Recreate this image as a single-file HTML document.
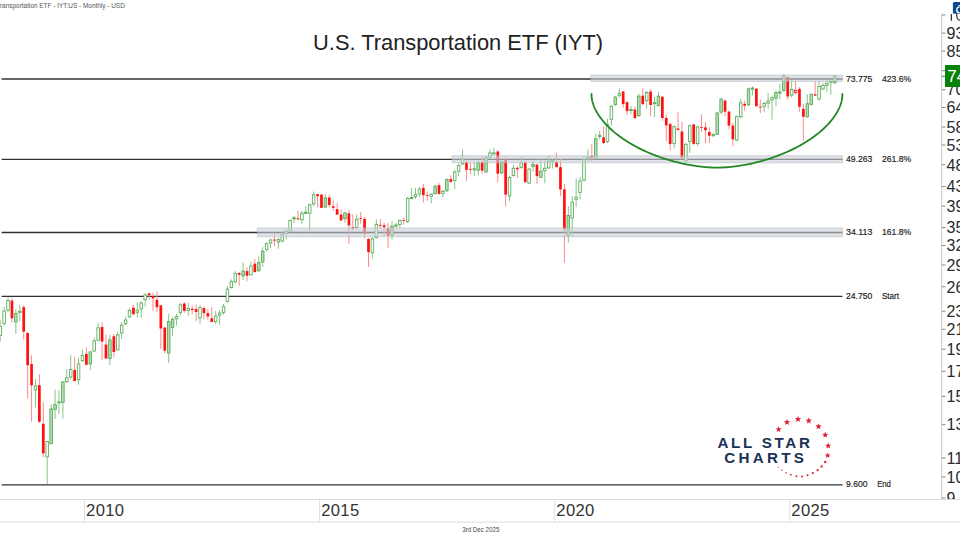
<!DOCTYPE html>
<html><head><meta charset="utf-8"><title>IYT</title>
<style>html,body{margin:0;padding:0;background:#fff;width:960px;height:540px;overflow:hidden}svg{display:block}</style>
</head><body>
<svg width="960" height="540" viewBox="0 0 960 540" font-family="'Liberation Sans', sans-serif">
<defs><clipPath id="axclip"><rect x="930" y="14" width="40" height="485.5"/></clipPath></defs>
<rect width="960" height="540" fill="#fff"/>
<text x="124.8" y="7.7" font-size="6.45" fill="#555" text-anchor="end">U.S. Transportation ETF - IYT:US - Monthly - USD</text>
<text x="458.1" y="50" font-size="22.4" fill="#222" text-anchor="middle" textLength="290" lengthAdjust="spacingAndGlyphs">U.S. Transportation ETF (IYT)</text>
<line x1="1.6" y1="79.00" x2="842.5" y2="79.00" stroke="#303030" stroke-width="1.35"/>
<line x1="1.6" y1="159.38" x2="842.5" y2="159.38" stroke="#303030" stroke-width="1.35"/>
<line x1="1.6" y1="232.53" x2="842.5" y2="232.53" stroke="#303030" stroke-width="1.35"/>
<line x1="1.6" y1="296.39" x2="842.5" y2="296.39" stroke="#303030" stroke-width="1.35"/>
<line x1="1.6" y1="484.89" x2="842.5" y2="484.89" stroke="#303030" stroke-width="1.35"/>
<line x1="0.20" y1="319.4" x2="0.20" y2="341.7" stroke="#86c686" stroke-width="1"/>
<rect x="-1.07" y="326.4" width="2.55" height="9.2" fill="#fff" stroke="#56a856" stroke-width="0.85"/>
<line x1="4.12" y1="306.7" x2="4.12" y2="325.6" stroke="#86c686" stroke-width="1"/>
<rect x="2.85" y="311.0" width="2.55" height="12.4" fill="#fff" stroke="#56a856" stroke-width="0.85"/>
<line x1="8.04" y1="297.2" x2="8.04" y2="312.2" stroke="#86c686" stroke-width="1"/>
<rect x="6.77" y="300.4" width="2.55" height="9.8" fill="#fff" stroke="#56a856" stroke-width="0.85"/>
<line x1="11.96" y1="297.8" x2="11.96" y2="322.8" stroke="#ff8a8a" stroke-width="1"/>
<rect x="10.61" y="300.6" width="2.7" height="17.7" fill="#ff1010"/>
<line x1="15.88" y1="308.9" x2="15.88" y2="333.9" stroke="#86c686" stroke-width="1"/>
<rect x="14.60" y="313.4" width="2.55" height="8.5" fill="#b3dcb3" stroke="#56a856" stroke-width="0.85"/>
<line x1="19.79" y1="304.7" x2="19.79" y2="321.4" stroke="#86c686" stroke-width="1"/>
<rect x="18.52" y="311.3" width="2.55" height="1.1" fill="#b3dcb3" stroke="#56a856" stroke-width="0.85"/>
<line x1="23.71" y1="305.0" x2="23.71" y2="339.4" stroke="#ff8a8a" stroke-width="1"/>
<rect x="22.36" y="307.2" width="2.7" height="24.5" fill="#ff1010"/>
<line x1="27.63" y1="332.0" x2="27.63" y2="398.5" stroke="#ff8a8a" stroke-width="1"/>
<rect x="26.28" y="333.0" width="2.7" height="32.2" fill="#ff1010"/>
<line x1="31.55" y1="355.3" x2="31.55" y2="421.7" stroke="#ff8a8a" stroke-width="1"/>
<rect x="30.20" y="364.1" width="2.7" height="21.1" fill="#ff1010"/>
<line x1="35.47" y1="379.0" x2="35.47" y2="407.5" stroke="#86c686" stroke-width="1"/>
<rect x="34.19" y="385.9" width="2.55" height="4.0" fill="#fff" stroke="#56a856" stroke-width="0.85"/>
<line x1="39.38" y1="374.1" x2="39.38" y2="422.8" stroke="#ff8a8a" stroke-width="1"/>
<rect x="38.03" y="385.2" width="2.7" height="36.5" fill="#ff1010"/>
<line x1="43.30" y1="402.4" x2="43.30" y2="457.0" stroke="#ff8a8a" stroke-width="1"/>
<rect x="41.95" y="423.8" width="2.7" height="29.5" fill="#ff1010"/>
<line x1="47.22" y1="441.0" x2="47.22" y2="483.9" stroke="#86c686" stroke-width="1"/>
<rect x="45.95" y="441.4" width="2.55" height="15.5" fill="#fff" stroke="#56a856" stroke-width="0.85"/>
<line x1="51.14" y1="404.3" x2="51.14" y2="444.2" stroke="#86c686" stroke-width="1"/>
<rect x="49.86" y="408.9" width="2.55" height="34.8" fill="#b3dcb3" stroke="#56a856" stroke-width="0.85"/>
<line x1="55.06" y1="389.8" x2="55.06" y2="419.0" stroke="#86c686" stroke-width="1"/>
<rect x="53.78" y="404.6" width="2.55" height="4.7" fill="#b3dcb3" stroke="#56a856" stroke-width="0.85"/>
<line x1="58.97" y1="390.3" x2="58.97" y2="413.9" stroke="#86c686" stroke-width="1"/>
<rect x="57.70" y="401.8" width="2.55" height="1.1" fill="#b3dcb3" stroke="#56a856" stroke-width="0.85"/>
<line x1="62.89" y1="381.5" x2="62.89" y2="418.5" stroke="#86c686" stroke-width="1"/>
<rect x="61.62" y="381.9" width="2.55" height="20.5" fill="#b3dcb3" stroke="#56a856" stroke-width="0.85"/>
<line x1="66.81" y1="369.0" x2="66.81" y2="383.0" stroke="#86c686" stroke-width="1"/>
<rect x="65.53" y="377.8" width="2.55" height="3.8" fill="#fff" stroke="#56a856" stroke-width="0.85"/>
<line x1="70.73" y1="355.2" x2="70.73" y2="379.3" stroke="#86c686" stroke-width="1"/>
<rect x="69.45" y="369.4" width="2.55" height="7.5" fill="#fff" stroke="#56a856" stroke-width="0.85"/>
<line x1="74.65" y1="356.7" x2="74.65" y2="381.1" stroke="#ff8a8a" stroke-width="1"/>
<rect x="73.30" y="370.0" width="2.7" height="11.1" fill="#ff1010"/>
<line x1="78.56" y1="358.0" x2="78.56" y2="384.8" stroke="#86c686" stroke-width="1"/>
<rect x="77.29" y="363.9" width="2.55" height="15.8" fill="#fff" stroke="#56a856" stroke-width="0.85"/>
<line x1="82.48" y1="349.6" x2="82.48" y2="361.7" stroke="#86c686" stroke-width="1"/>
<rect x="81.21" y="355.6" width="2.55" height="5.1" fill="#fff" stroke="#56a856" stroke-width="0.85"/>
<line x1="86.40" y1="347.4" x2="86.40" y2="364.8" stroke="#ff8a8a" stroke-width="1"/>
<rect x="85.05" y="353.9" width="2.7" height="10.9" fill="#ff1010"/>
<line x1="90.32" y1="351.5" x2="90.32" y2="370.0" stroke="#86c686" stroke-width="1"/>
<rect x="89.04" y="351.9" width="2.55" height="12.0" fill="#b3dcb3" stroke="#56a856" stroke-width="0.85"/>
<line x1="94.24" y1="337.6" x2="94.24" y2="351.5" stroke="#86c686" stroke-width="1"/>
<rect x="92.96" y="340.8" width="2.55" height="10.3" fill="#fff" stroke="#56a856" stroke-width="0.85"/>
<line x1="98.15" y1="322.6" x2="98.15" y2="341.0" stroke="#86c686" stroke-width="1"/>
<rect x="96.88" y="327.8" width="2.55" height="12.5" fill="#fff" stroke="#56a856" stroke-width="0.85"/>
<line x1="102.07" y1="322.4" x2="102.07" y2="360.4" stroke="#ff8a8a" stroke-width="1"/>
<rect x="100.72" y="327.0" width="2.7" height="14.5" fill="#ff1010"/>
<line x1="105.99" y1="334.4" x2="105.99" y2="358.5" stroke="#ff8a8a" stroke-width="1"/>
<rect x="104.64" y="344.6" width="2.7" height="13.9" fill="#ff1010"/>
<line x1="109.91" y1="334.9" x2="109.91" y2="365.0" stroke="#86c686" stroke-width="1"/>
<rect x="108.63" y="339.9" width="2.55" height="18.6" fill="#b3dcb3" stroke="#56a856" stroke-width="0.85"/>
<line x1="113.83" y1="334.4" x2="113.83" y2="357.6" stroke="#ff8a8a" stroke-width="1"/>
<rect x="112.48" y="336.3" width="2.7" height="15.7" fill="#ff1010"/>
<line x1="117.74" y1="331.7" x2="117.74" y2="350.2" stroke="#86c686" stroke-width="1"/>
<rect x="116.47" y="334.8" width="2.55" height="15.0" fill="#fff" stroke="#56a856" stroke-width="0.85"/>
<line x1="121.66" y1="322.4" x2="121.66" y2="339.0" stroke="#86c686" stroke-width="1"/>
<rect x="120.39" y="325.2" width="2.55" height="7.8" fill="#fff" stroke="#56a856" stroke-width="0.85"/>
<line x1="125.58" y1="316.9" x2="125.58" y2="325.2" stroke="#86c686" stroke-width="1"/>
<rect x="124.31" y="320.0" width="2.55" height="3.8" fill="#fff" stroke="#56a856" stroke-width="0.85"/>
<line x1="129.50" y1="308.5" x2="129.50" y2="317.8" stroke="#86c686" stroke-width="1"/>
<rect x="128.22" y="310.4" width="2.55" height="6.5" fill="#fff" stroke="#56a856" stroke-width="0.85"/>
<line x1="133.42" y1="304.9" x2="133.42" y2="315.1" stroke="#ff8a8a" stroke-width="1"/>
<rect x="132.07" y="307.7" width="2.7" height="6.5" fill="#ff1010"/>
<line x1="137.33" y1="302.0" x2="137.33" y2="317.8" stroke="#86c686" stroke-width="1"/>
<rect x="136.06" y="310.2" width="2.55" height="2.1" fill="#fff" stroke="#56a856" stroke-width="0.85"/>
<line x1="141.25" y1="301.1" x2="141.25" y2="317.8" stroke="#86c686" stroke-width="1"/>
<rect x="139.98" y="303.0" width="2.55" height="5.9" fill="#fff" stroke="#56a856" stroke-width="0.85"/>
<line x1="145.17" y1="293.3" x2="145.17" y2="306.7" stroke="#86c686" stroke-width="1"/>
<rect x="143.90" y="295.0" width="2.55" height="4.7" fill="#fff" stroke="#56a856" stroke-width="0.85"/>
<line x1="149.09" y1="292.8" x2="149.09" y2="300.2" stroke="#ff8a8a" stroke-width="1"/>
<rect x="147.74" y="293.3" width="2.7" height="1.9" fill="#ff1010"/>
<line x1="153.01" y1="293.3" x2="153.01" y2="311.0" stroke="#ff8a8a" stroke-width="1"/>
<rect x="151.66" y="296.3" width="2.7" height="2.0" fill="#ff1010"/>
<line x1="156.92" y1="291.5" x2="156.92" y2="311.9" stroke="#ff8a8a" stroke-width="1"/>
<rect x="155.57" y="299.8" width="2.7" height="7.4" fill="#ff1010"/>
<line x1="160.84" y1="305.4" x2="160.84" y2="348.9" stroke="#ff8a8a" stroke-width="1"/>
<rect x="159.49" y="305.4" width="2.7" height="23.1" fill="#ff1010"/>
<line x1="164.76" y1="326.7" x2="164.76" y2="353.5" stroke="#ff8a8a" stroke-width="1"/>
<rect x="163.41" y="327.6" width="2.7" height="23.1" fill="#ff1010"/>
<line x1="168.68" y1="313.7" x2="168.68" y2="362.8" stroke="#86c686" stroke-width="1"/>
<rect x="167.40" y="321.5" width="2.55" height="31.5" fill="#b3dcb3" stroke="#56a856" stroke-width="0.85"/>
<line x1="172.60" y1="316.8" x2="172.60" y2="335.7" stroke="#86c686" stroke-width="1"/>
<rect x="171.32" y="319.4" width="2.55" height="8.0" fill="#b3dcb3" stroke="#56a856" stroke-width="0.85"/>
<line x1="176.51" y1="313.7" x2="176.51" y2="325.7" stroke="#86c686" stroke-width="1"/>
<rect x="175.24" y="316.5" width="2.55" height="2.3" fill="#fff" stroke="#56a856" stroke-width="0.85"/>
<line x1="180.43" y1="303.1" x2="180.43" y2="315.6" stroke="#86c686" stroke-width="1"/>
<rect x="179.16" y="304.8" width="2.55" height="7.6" fill="#fff" stroke="#56a856" stroke-width="0.85"/>
<line x1="184.35" y1="302.6" x2="184.35" y2="312.8" stroke="#ff8a8a" stroke-width="1"/>
<rect x="183.00" y="303.5" width="2.7" height="7.4" fill="#ff1010"/>
<line x1="188.27" y1="302.6" x2="188.27" y2="315.6" stroke="#86c686" stroke-width="1"/>
<rect x="186.99" y="308.3" width="2.55" height="2.1" fill="#fff" stroke="#56a856" stroke-width="0.85"/>
<line x1="192.19" y1="305.4" x2="192.19" y2="314.6" stroke="#ff8a8a" stroke-width="1"/>
<rect x="190.84" y="308.7" width="2.7" height="1.3" fill="#ff1010"/>
<line x1="196.10" y1="304.4" x2="196.10" y2="321.1" stroke="#ff8a8a" stroke-width="1"/>
<rect x="194.75" y="309.0" width="2.7" height="2.9" fill="#ff1010"/>
<line x1="200.02" y1="305.4" x2="200.02" y2="323.9" stroke="#86c686" stroke-width="1"/>
<rect x="198.75" y="307.6" width="2.55" height="10.3" fill="#fff" stroke="#56a856" stroke-width="0.85"/>
<line x1="203.94" y1="306.3" x2="203.94" y2="319.3" stroke="#ff8a8a" stroke-width="1"/>
<rect x="202.59" y="308.1" width="2.7" height="5.0" fill="#ff1010"/>
<line x1="207.86" y1="309.5" x2="207.86" y2="319.3" stroke="#ff8a8a" stroke-width="1"/>
<rect x="206.51" y="313.2" width="2.7" height="3.3" fill="#ff1010"/>
<line x1="211.78" y1="307.2" x2="211.78" y2="322.0" stroke="#ff8a8a" stroke-width="1"/>
<rect x="210.43" y="318.3" width="2.7" height="3.7" fill="#ff1010"/>
<line x1="215.69" y1="310.9" x2="215.69" y2="323.9" stroke="#86c686" stroke-width="1"/>
<rect x="214.42" y="316.0" width="2.55" height="5.5" fill="#fff" stroke="#56a856" stroke-width="0.85"/>
<line x1="219.61" y1="310.0" x2="219.61" y2="324.8" stroke="#86c686" stroke-width="1"/>
<rect x="218.34" y="313.1" width="2.55" height="2.1" fill="#fff" stroke="#56a856" stroke-width="0.85"/>
<line x1="223.53" y1="303.9" x2="223.53" y2="314.6" stroke="#86c686" stroke-width="1"/>
<rect x="222.26" y="306.7" width="2.55" height="5.7" fill="#fff" stroke="#56a856" stroke-width="0.85"/>
<line x1="227.45" y1="285.9" x2="227.45" y2="302.6" stroke="#86c686" stroke-width="1"/>
<rect x="226.17" y="289.1" width="2.55" height="12.2" fill="#fff" stroke="#56a856" stroke-width="0.85"/>
<line x1="231.37" y1="279.4" x2="231.37" y2="288.7" stroke="#86c686" stroke-width="1"/>
<rect x="230.09" y="281.7" width="2.55" height="5.7" fill="#fff" stroke="#56a856" stroke-width="0.85"/>
<line x1="235.28" y1="271.1" x2="235.28" y2="283.1" stroke="#86c686" stroke-width="1"/>
<rect x="234.01" y="273.4" width="2.55" height="8.3" fill="#fff" stroke="#56a856" stroke-width="0.85"/>
<line x1="239.20" y1="272.0" x2="239.20" y2="285.9" stroke="#ff8a8a" stroke-width="1"/>
<rect x="237.85" y="273.0" width="2.7" height="1.8" fill="#ff1010"/>
<line x1="243.12" y1="262.4" x2="243.12" y2="280.0" stroke="#86c686" stroke-width="1"/>
<rect x="241.85" y="271.1" width="2.55" height="4.8" fill="#b3dcb3" stroke="#56a856" stroke-width="0.85"/>
<line x1="247.04" y1="267.4" x2="247.04" y2="281.3" stroke="#ff8a8a" stroke-width="1"/>
<rect x="245.69" y="271.1" width="2.7" height="4.6" fill="#ff1010"/>
<line x1="250.96" y1="261.5" x2="250.96" y2="275.4" stroke="#86c686" stroke-width="1"/>
<rect x="249.68" y="266.0" width="2.55" height="8.9" fill="#fff" stroke="#56a856" stroke-width="0.85"/>
<line x1="254.87" y1="259.1" x2="254.87" y2="273.0" stroke="#ff8a8a" stroke-width="1"/>
<rect x="253.52" y="263.7" width="2.7" height="8.3" fill="#ff1010"/>
<line x1="258.79" y1="256.4" x2="258.79" y2="272.1" stroke="#86c686" stroke-width="1"/>
<rect x="257.52" y="262.4" width="2.55" height="8.3" fill="#b3dcb3" stroke="#56a856" stroke-width="0.85"/>
<line x1="262.71" y1="247.1" x2="262.71" y2="267.0" stroke="#86c686" stroke-width="1"/>
<rect x="261.44" y="251.2" width="2.55" height="10.7" fill="#b3dcb3" stroke="#56a856" stroke-width="0.85"/>
<line x1="266.63" y1="242.4" x2="266.63" y2="251.7" stroke="#86c686" stroke-width="1"/>
<rect x="265.35" y="243.7" width="2.55" height="5.7" fill="#fff" stroke="#56a856" stroke-width="0.85"/>
<line x1="270.55" y1="238.7" x2="270.55" y2="248.0" stroke="#86c686" stroke-width="1"/>
<rect x="269.27" y="240.0" width="2.55" height="2.9" fill="#fff" stroke="#56a856" stroke-width="0.85"/>
<line x1="274.46" y1="234.1" x2="274.46" y2="246.1" stroke="#ff8a8a" stroke-width="1"/>
<rect x="273.11" y="239.6" width="2.7" height="1.0" fill="#ff1010"/>
<line x1="278.38" y1="237.8" x2="278.38" y2="248.9" stroke="#86c686" stroke-width="1"/>
<rect x="277.11" y="239.7" width="2.55" height="2.2" fill="#fff" stroke="#56a856" stroke-width="0.85"/>
<line x1="282.30" y1="232.2" x2="282.30" y2="242.4" stroke="#86c686" stroke-width="1"/>
<rect x="281.03" y="234.5" width="2.55" height="6.6" fill="#fff" stroke="#56a856" stroke-width="0.85"/>
<line x1="286.22" y1="228.5" x2="286.22" y2="239.6" stroke="#86c686" stroke-width="1"/>
<rect x="284.94" y="231.3" width="2.55" height="2.3" fill="#fff" stroke="#56a856" stroke-width="0.85"/>
<line x1="290.14" y1="219.3" x2="290.14" y2="232.2" stroke="#86c686" stroke-width="1"/>
<rect x="288.86" y="220.6" width="2.55" height="10.3" fill="#fff" stroke="#56a856" stroke-width="0.85"/>
<line x1="294.05" y1="215.6" x2="294.05" y2="223.0" stroke="#86c686" stroke-width="1"/>
<rect x="292.78" y="217.8" width="2.55" height="1.1" fill="#b3dcb3" stroke="#56a856" stroke-width="0.85"/>
<line x1="297.97" y1="210.9" x2="297.97" y2="220.2" stroke="#ff8a8a" stroke-width="1"/>
<rect x="296.62" y="218.3" width="2.7" height="1.0" fill="#ff1010"/>
<line x1="301.89" y1="210.9" x2="301.89" y2="223.9" stroke="#86c686" stroke-width="1"/>
<rect x="300.62" y="213.2" width="2.55" height="6.5" fill="#fff" stroke="#56a856" stroke-width="0.85"/>
<line x1="305.81" y1="206.1" x2="305.81" y2="214.4" stroke="#86c686" stroke-width="1"/>
<rect x="304.53" y="212.2" width="2.55" height="1.1" fill="#b3dcb3" stroke="#56a856" stroke-width="0.85"/>
<line x1="309.73" y1="203.5" x2="309.73" y2="232.2" stroke="#86c686" stroke-width="1"/>
<rect x="308.45" y="204.8" width="2.55" height="8.4" fill="#fff" stroke="#56a856" stroke-width="0.85"/>
<line x1="313.64" y1="191.5" x2="313.64" y2="206.3" stroke="#86c686" stroke-width="1"/>
<rect x="312.37" y="194.7" width="2.55" height="9.2" fill="#fff" stroke="#56a856" stroke-width="0.85"/>
<line x1="317.56" y1="193.8" x2="317.56" y2="207.5" stroke="#ff8a8a" stroke-width="1"/>
<rect x="316.21" y="194.2" width="2.7" height="2.0" fill="#ff1010"/>
<line x1="321.48" y1="194.2" x2="321.48" y2="208.3" stroke="#ff8a8a" stroke-width="1"/>
<rect x="320.13" y="194.6" width="2.7" height="13.3" fill="#ff1010"/>
<line x1="325.40" y1="194.2" x2="325.40" y2="207.9" stroke="#86c686" stroke-width="1"/>
<rect x="324.12" y="197.9" width="2.55" height="9.2" fill="#b3dcb3" stroke="#56a856" stroke-width="0.85"/>
<line x1="329.32" y1="194.6" x2="329.32" y2="207.5" stroke="#ff8a8a" stroke-width="1"/>
<rect x="327.97" y="197.5" width="2.7" height="7.5" fill="#ff1010"/>
<line x1="333.23" y1="200.8" x2="333.23" y2="210.8" stroke="#ff8a8a" stroke-width="1"/>
<rect x="331.88" y="206.3" width="2.7" height="1.6" fill="#ff1010"/>
<line x1="337.15" y1="202.9" x2="337.15" y2="214.6" stroke="#ff8a8a" stroke-width="1"/>
<rect x="335.80" y="209.2" width="2.7" height="5.4" fill="#ff1010"/>
<line x1="341.07" y1="209.2" x2="341.07" y2="220.8" stroke="#ff8a8a" stroke-width="1"/>
<rect x="339.72" y="214.6" width="2.7" height="5.8" fill="#ff1010"/>
<line x1="344.99" y1="212.0" x2="344.99" y2="222.7" stroke="#86c686" stroke-width="1"/>
<rect x="343.71" y="212.9" width="2.55" height="5.7" fill="#b3dcb3" stroke="#56a856" stroke-width="0.85"/>
<line x1="348.91" y1="209.6" x2="348.91" y2="243.9" stroke="#ff8a8a" stroke-width="1"/>
<rect x="347.56" y="213.3" width="2.7" height="12.1" fill="#ff1010"/>
<line x1="352.82" y1="214.3" x2="352.82" y2="230.9" stroke="#ff8a8a" stroke-width="1"/>
<rect x="351.47" y="227.2" width="2.7" height="1.3" fill="#ff1010"/>
<line x1="356.74" y1="214.3" x2="356.74" y2="229.1" stroke="#86c686" stroke-width="1"/>
<rect x="355.47" y="219.3" width="2.55" height="8.1" fill="#fff" stroke="#56a856" stroke-width="0.85"/>
<line x1="360.66" y1="212.0" x2="360.66" y2="223.6" stroke="#ff8a8a" stroke-width="1"/>
<rect x="359.31" y="218.2" width="2.7" height="0.8" fill="#ff1010"/>
<line x1="364.58" y1="217.0" x2="364.58" y2="238.3" stroke="#ff8a8a" stroke-width="1"/>
<rect x="363.23" y="218.9" width="2.7" height="14.8" fill="#ff1010"/>
<line x1="368.50" y1="238.3" x2="368.50" y2="267.0" stroke="#ff8a8a" stroke-width="1"/>
<rect x="367.15" y="238.9" width="2.7" height="13.3" fill="#ff1010"/>
<line x1="372.41" y1="236.7" x2="372.41" y2="258.4" stroke="#86c686" stroke-width="1"/>
<rect x="371.14" y="238.9" width="2.55" height="14.0" fill="#fff" stroke="#56a856" stroke-width="0.85"/>
<line x1="376.33" y1="219.3" x2="376.33" y2="238.7" stroke="#86c686" stroke-width="1"/>
<rect x="375.06" y="224.3" width="2.55" height="13.1" fill="#fff" stroke="#56a856" stroke-width="0.85"/>
<line x1="380.25" y1="219.3" x2="380.25" y2="228.5" stroke="#ff8a8a" stroke-width="1"/>
<rect x="378.90" y="224.9" width="2.7" height="0.8" fill="#ff1010"/>
<line x1="384.17" y1="223.0" x2="384.17" y2="235.9" stroke="#ff8a8a" stroke-width="1"/>
<rect x="382.82" y="225.3" width="2.7" height="1.8" fill="#ff1010"/>
<line x1="388.09" y1="223.0" x2="388.09" y2="248.0" stroke="#ff8a8a" stroke-width="1"/>
<rect x="386.74" y="228.5" width="2.7" height="7.4" fill="#ff1010"/>
<line x1="392.00" y1="221.1" x2="392.00" y2="239.6" stroke="#86c686" stroke-width="1"/>
<rect x="390.73" y="226.1" width="2.55" height="9.4" fill="#b3dcb3" stroke="#56a856" stroke-width="0.85"/>
<line x1="395.92" y1="223.0" x2="395.92" y2="227.6" stroke="#86c686" stroke-width="1"/>
<rect x="394.65" y="225.0" width="2.55" height="1.1" fill="#b3dcb3" stroke="#56a856" stroke-width="0.85"/>
<line x1="399.84" y1="219.3" x2="399.84" y2="227.6" stroke="#86c686" stroke-width="1"/>
<rect x="398.57" y="220.6" width="2.55" height="3.8" fill="#fff" stroke="#56a856" stroke-width="0.85"/>
<line x1="403.76" y1="217.4" x2="403.76" y2="224.8" stroke="#ff8a8a" stroke-width="1"/>
<rect x="402.41" y="220.2" width="2.7" height="0.8" fill="#ff1010"/>
<line x1="407.68" y1="197.0" x2="407.68" y2="223.0" stroke="#86c686" stroke-width="1"/>
<rect x="406.40" y="198.4" width="2.55" height="23.1" fill="#fff" stroke="#56a856" stroke-width="0.85"/>
<line x1="411.59" y1="187.8" x2="411.59" y2="198.9" stroke="#86c686" stroke-width="1"/>
<rect x="410.32" y="197.5" width="2.55" height="1.1" fill="#b3dcb3" stroke="#56a856" stroke-width="0.85"/>
<line x1="415.51" y1="187.8" x2="415.51" y2="198.9" stroke="#86c686" stroke-width="1"/>
<rect x="414.24" y="194.6" width="2.55" height="2.1" fill="#fff" stroke="#56a856" stroke-width="0.85"/>
<line x1="419.43" y1="186.9" x2="419.43" y2="197.0" stroke="#86c686" stroke-width="1"/>
<rect x="418.16" y="189.1" width="2.55" height="4.8" fill="#fff" stroke="#56a856" stroke-width="0.85"/>
<line x1="423.35" y1="184.1" x2="423.35" y2="202.6" stroke="#ff8a8a" stroke-width="1"/>
<rect x="422.00" y="187.8" width="2.7" height="7.4" fill="#ff1010"/>
<line x1="427.27" y1="191.5" x2="427.27" y2="200.7" stroke="#ff8a8a" stroke-width="1"/>
<rect x="425.92" y="195.2" width="2.7" height="0.8" fill="#ff1010"/>
<line x1="431.18" y1="193.0" x2="431.18" y2="203.1" stroke="#86c686" stroke-width="1"/>
<rect x="429.91" y="194.2" width="2.55" height="2.1" fill="#fff" stroke="#56a856" stroke-width="0.85"/>
<line x1="435.10" y1="184.6" x2="435.10" y2="194.8" stroke="#86c686" stroke-width="1"/>
<rect x="433.83" y="186.3" width="2.55" height="7.1" fill="#b3dcb3" stroke="#56a856" stroke-width="0.85"/>
<line x1="439.02" y1="182.8" x2="439.02" y2="194.8" stroke="#ff8a8a" stroke-width="1"/>
<rect x="437.67" y="185.2" width="2.7" height="8.7" fill="#ff1010"/>
<line x1="442.94" y1="189.3" x2="442.94" y2="197.6" stroke="#86c686" stroke-width="1"/>
<rect x="441.66" y="191.4" width="2.55" height="2.1" fill="#fff" stroke="#56a856" stroke-width="0.85"/>
<line x1="446.86" y1="178.5" x2="446.86" y2="192.0" stroke="#86c686" stroke-width="1"/>
<rect x="445.58" y="179.5" width="2.55" height="11.2" fill="#b3dcb3" stroke="#56a856" stroke-width="0.85"/>
<line x1="450.77" y1="175.4" x2="450.77" y2="182.8" stroke="#ff8a8a" stroke-width="1"/>
<rect x="449.42" y="179.1" width="2.7" height="2.8" fill="#ff1010"/>
<line x1="454.69" y1="169.8" x2="454.69" y2="189.3" stroke="#86c686" stroke-width="1"/>
<rect x="453.42" y="172.1" width="2.55" height="8.4" fill="#fff" stroke="#56a856" stroke-width="0.85"/>
<line x1="458.61" y1="163.3" x2="458.61" y2="176.3" stroke="#86c686" stroke-width="1"/>
<rect x="457.34" y="165.6" width="2.55" height="5.7" fill="#fff" stroke="#56a856" stroke-width="0.85"/>
<line x1="462.53" y1="149.4" x2="462.53" y2="165.2" stroke="#86c686" stroke-width="1"/>
<rect x="461.25" y="159.1" width="2.55" height="4.8" fill="#fff" stroke="#56a856" stroke-width="0.85"/>
<line x1="466.45" y1="159.6" x2="466.45" y2="180.9" stroke="#ff8a8a" stroke-width="1"/>
<rect x="465.10" y="162.4" width="2.7" height="7.4" fill="#ff1010"/>
<line x1="470.36" y1="162.4" x2="470.36" y2="174.4" stroke="#ff8a8a" stroke-width="1"/>
<rect x="469.01" y="168.9" width="2.7" height="0.9" fill="#ff1010"/>
<line x1="474.28" y1="162.4" x2="474.28" y2="176.3" stroke="#86c686" stroke-width="1"/>
<rect x="473.01" y="168.8" width="2.55" height="1.1" fill="#b3dcb3" stroke="#56a856" stroke-width="0.85"/>
<line x1="478.20" y1="160.8" x2="478.20" y2="175.6" stroke="#86c686" stroke-width="1"/>
<rect x="476.93" y="162.6" width="2.55" height="7.6" fill="#b3dcb3" stroke="#56a856" stroke-width="0.85"/>
<line x1="482.12" y1="156.2" x2="482.12" y2="173.8" stroke="#ff8a8a" stroke-width="1"/>
<rect x="480.77" y="162.2" width="2.7" height="8.4" fill="#ff1010"/>
<line x1="486.04" y1="156.3" x2="486.04" y2="173.0" stroke="#86c686" stroke-width="1"/>
<rect x="484.76" y="157.5" width="2.55" height="14.5" fill="#b3dcb3" stroke="#56a856" stroke-width="0.85"/>
<line x1="489.95" y1="149.6" x2="489.95" y2="158.5" stroke="#86c686" stroke-width="1"/>
<rect x="488.68" y="153.0" width="2.55" height="4.2" fill="#fff" stroke="#56a856" stroke-width="0.85"/>
<line x1="493.87" y1="147.8" x2="493.87" y2="153.9" stroke="#86c686" stroke-width="1"/>
<rect x="492.60" y="152.9" width="2.55" height="1.1" fill="#b3dcb3" stroke="#56a856" stroke-width="0.85"/>
<line x1="497.79" y1="150.2" x2="497.79" y2="182.2" stroke="#ff8a8a" stroke-width="1"/>
<rect x="496.44" y="151.5" width="2.7" height="22.2" fill="#ff1010"/>
<line x1="501.71" y1="160.7" x2="501.71" y2="174.3" stroke="#86c686" stroke-width="1"/>
<rect x="500.43" y="161.7" width="2.55" height="11.2" fill="#b3dcb3" stroke="#56a856" stroke-width="0.85"/>
<line x1="505.63" y1="157.6" x2="505.63" y2="206.3" stroke="#ff8a8a" stroke-width="1"/>
<rect x="504.28" y="159.4" width="2.7" height="35.2" fill="#ff1010"/>
<line x1="509.54" y1="175.6" x2="509.54" y2="201.1" stroke="#86c686" stroke-width="1"/>
<rect x="508.27" y="177.4" width="2.55" height="18.6" fill="#fff" stroke="#56a856" stroke-width="0.85"/>
<line x1="513.46" y1="165.0" x2="513.46" y2="176.7" stroke="#86c686" stroke-width="1"/>
<rect x="512.19" y="168.2" width="2.55" height="7.4" fill="#fff" stroke="#56a856" stroke-width="0.85"/>
<line x1="517.38" y1="166.3" x2="517.38" y2="178.0" stroke="#ff8a8a" stroke-width="1"/>
<rect x="516.03" y="167.8" width="2.7" height="1.5" fill="#ff1010"/>
<line x1="521.30" y1="156.7" x2="521.30" y2="168.7" stroke="#86c686" stroke-width="1"/>
<rect x="520.02" y="162.6" width="2.55" height="4.8" fill="#fff" stroke="#56a856" stroke-width="0.85"/>
<line x1="525.22" y1="160.4" x2="525.22" y2="182.6" stroke="#ff8a8a" stroke-width="1"/>
<rect x="523.87" y="162.6" width="2.7" height="19.6" fill="#ff1010"/>
<line x1="529.13" y1="167.8" x2="529.13" y2="184.1" stroke="#86c686" stroke-width="1"/>
<rect x="527.86" y="169.1" width="2.55" height="14.0" fill="#fff" stroke="#56a856" stroke-width="0.85"/>
<line x1="533.05" y1="160.6" x2="533.05" y2="171.8" stroke="#86c686" stroke-width="1"/>
<rect x="531.78" y="164.3" width="2.55" height="2.3" fill="#b3dcb3" stroke="#56a856" stroke-width="0.85"/>
<line x1="536.97" y1="163.9" x2="536.97" y2="183.9" stroke="#ff8a8a" stroke-width="1"/>
<rect x="535.62" y="164.6" width="2.7" height="11.5" fill="#ff1010"/>
<line x1="540.89" y1="157.9" x2="540.89" y2="177.8" stroke="#86c686" stroke-width="1"/>
<rect x="539.61" y="171.2" width="2.55" height="6.2" fill="#b3dcb3" stroke="#56a856" stroke-width="0.85"/>
<line x1="544.81" y1="160.2" x2="544.81" y2="183.3" stroke="#86c686" stroke-width="1"/>
<rect x="543.53" y="168.3" width="2.55" height="2.1" fill="#fff" stroke="#56a856" stroke-width="0.85"/>
<line x1="548.72" y1="155.7" x2="548.72" y2="169.0" stroke="#86c686" stroke-width="1"/>
<rect x="547.45" y="161.0" width="2.55" height="6.9" fill="#fff" stroke="#56a856" stroke-width="0.85"/>
<line x1="552.64" y1="159.4" x2="552.64" y2="168.6" stroke="#86c686" stroke-width="1"/>
<rect x="551.37" y="160.3" width="2.55" height="1.1" fill="#b3dcb3" stroke="#56a856" stroke-width="0.85"/>
<line x1="556.56" y1="152.8" x2="556.56" y2="167.2" stroke="#ff8a8a" stroke-width="1"/>
<rect x="555.21" y="161.7" width="2.7" height="5.5" fill="#ff1010"/>
<line x1="560.48" y1="158.3" x2="560.48" y2="196.1" stroke="#ff8a8a" stroke-width="1"/>
<rect x="559.13" y="167.2" width="2.7" height="22.2" fill="#ff1010"/>
<line x1="564.40" y1="183.9" x2="564.40" y2="262.8" stroke="#ff8a8a" stroke-width="1"/>
<rect x="563.05" y="189.4" width="2.7" height="40.0" fill="#ff1010"/>
<line x1="568.31" y1="206.1" x2="568.31" y2="242.8" stroke="#86c686" stroke-width="1"/>
<rect x="567.04" y="215.4" width="2.55" height="20.2" fill="#b3dcb3" stroke="#56a856" stroke-width="0.85"/>
<line x1="572.23" y1="196.1" x2="572.23" y2="237.2" stroke="#86c686" stroke-width="1"/>
<rect x="570.96" y="202.1" width="2.55" height="15.8" fill="#fff" stroke="#56a856" stroke-width="0.85"/>
<line x1="576.15" y1="178.3" x2="576.15" y2="207.2" stroke="#86c686" stroke-width="1"/>
<rect x="574.87" y="197.2" width="2.55" height="2.1" fill="#fff" stroke="#56a856" stroke-width="0.85"/>
<line x1="580.07" y1="177.2" x2="580.07" y2="199.4" stroke="#86c686" stroke-width="1"/>
<rect x="578.79" y="181.0" width="2.55" height="11.4" fill="#fff" stroke="#56a856" stroke-width="0.85"/>
<line x1="583.99" y1="156.1" x2="583.99" y2="181.7" stroke="#86c686" stroke-width="1"/>
<rect x="582.71" y="159.8" width="2.55" height="20.3" fill="#fff" stroke="#56a856" stroke-width="0.85"/>
<line x1="587.90" y1="149.4" x2="587.90" y2="162.4" stroke="#86c686" stroke-width="1"/>
<rect x="586.63" y="157.3" width="2.55" height="1.8" fill="#b3dcb3" stroke="#56a856" stroke-width="0.85"/>
<line x1="591.82" y1="143.9" x2="591.82" y2="162.4" stroke="#ff8a8a" stroke-width="1"/>
<rect x="590.47" y="155.9" width="2.7" height="1.9" fill="#ff1010"/>
<line x1="595.74" y1="133.7" x2="595.74" y2="159.6" stroke="#86c686" stroke-width="1"/>
<rect x="594.46" y="138.7" width="2.55" height="19.5" fill="#b3dcb3" stroke="#56a856" stroke-width="0.85"/>
<line x1="599.66" y1="130.9" x2="599.66" y2="139.3" stroke="#86c686" stroke-width="1"/>
<rect x="598.38" y="135.3" width="2.55" height="1.1" fill="#b3dcb3" stroke="#56a856" stroke-width="0.85"/>
<line x1="603.58" y1="126.3" x2="603.58" y2="143.9" stroke="#ff8a8a" stroke-width="1"/>
<rect x="602.23" y="137.4" width="2.7" height="5.6" fill="#ff1010"/>
<line x1="607.49" y1="118.9" x2="607.49" y2="143.0" stroke="#86c686" stroke-width="1"/>
<rect x="606.22" y="124.8" width="2.55" height="16.7" fill="#fff" stroke="#56a856" stroke-width="0.85"/>
<line x1="611.41" y1="105.0" x2="611.41" y2="125.4" stroke="#86c686" stroke-width="1"/>
<rect x="610.14" y="106.3" width="2.55" height="13.0" fill="#fff" stroke="#56a856" stroke-width="0.85"/>
<line x1="615.33" y1="95.7" x2="615.33" y2="105.9" stroke="#86c686" stroke-width="1"/>
<rect x="614.05" y="97.1" width="2.55" height="7.4" fill="#b3dcb3" stroke="#56a856" stroke-width="0.85"/>
<line x1="619.25" y1="88.3" x2="619.25" y2="97.6" stroke="#86c686" stroke-width="1"/>
<rect x="617.97" y="93.3" width="2.55" height="2.1" fill="#fff" stroke="#56a856" stroke-width="0.85"/>
<line x1="623.17" y1="91.1" x2="623.17" y2="107.8" stroke="#ff8a8a" stroke-width="1"/>
<rect x="621.82" y="91.5" width="2.7" height="12.6" fill="#ff1010"/>
<line x1="627.08" y1="101.3" x2="627.08" y2="115.2" stroke="#ff8a8a" stroke-width="1"/>
<rect x="625.73" y="102.2" width="2.7" height="8.9" fill="#ff1010"/>
<line x1="631.00" y1="105.9" x2="631.00" y2="114.3" stroke="#86c686" stroke-width="1"/>
<rect x="629.73" y="109.5" width="2.55" height="1.1" fill="#b3dcb3" stroke="#56a856" stroke-width="0.85"/>
<line x1="634.92" y1="106.9" x2="634.92" y2="118.9" stroke="#ff8a8a" stroke-width="1"/>
<rect x="633.57" y="109.6" width="2.7" height="8.4" fill="#ff1010"/>
<line x1="638.84" y1="93.9" x2="638.84" y2="117.0" stroke="#86c686" stroke-width="1"/>
<rect x="637.56" y="96.1" width="2.55" height="19.5" fill="#b3dcb3" stroke="#56a856" stroke-width="0.85"/>
<line x1="642.76" y1="88.3" x2="642.76" y2="105.0" stroke="#ff8a8a" stroke-width="1"/>
<rect x="641.41" y="95.7" width="2.7" height="8.4" fill="#ff1010"/>
<line x1="646.67" y1="91.1" x2="646.67" y2="108.7" stroke="#86c686" stroke-width="1"/>
<rect x="645.40" y="92.4" width="2.55" height="8.4" fill="#fff" stroke="#56a856" stroke-width="0.85"/>
<line x1="650.59" y1="89.3" x2="650.59" y2="116.1" stroke="#ff8a8a" stroke-width="1"/>
<rect x="649.24" y="91.5" width="2.7" height="13.5" fill="#ff1010"/>
<line x1="654.51" y1="96.7" x2="654.51" y2="117.0" stroke="#86c686" stroke-width="1"/>
<rect x="653.23" y="102.6" width="2.55" height="1.1" fill="#b3dcb3" stroke="#56a856" stroke-width="0.85"/>
<line x1="658.43" y1="92.0" x2="658.43" y2="106.9" stroke="#86c686" stroke-width="1"/>
<rect x="657.15" y="96.1" width="2.55" height="9.4" fill="#b3dcb3" stroke="#56a856" stroke-width="0.85"/>
<line x1="662.35" y1="96.3" x2="662.35" y2="120.7" stroke="#ff8a8a" stroke-width="1"/>
<rect x="661.00" y="96.7" width="2.7" height="21.3" fill="#ff1010"/>
<line x1="666.26" y1="114.3" x2="666.26" y2="141.1" stroke="#ff8a8a" stroke-width="1"/>
<rect x="664.91" y="118.0" width="2.7" height="7.4" fill="#ff1010"/>
<line x1="670.18" y1="122.6" x2="670.18" y2="150.4" stroke="#ff8a8a" stroke-width="1"/>
<rect x="668.83" y="124.1" width="2.7" height="19.8" fill="#ff1010"/>
<line x1="674.10" y1="125.4" x2="674.10" y2="148.5" stroke="#86c686" stroke-width="1"/>
<rect x="672.82" y="126.7" width="2.55" height="16.8" fill="#fff" stroke="#56a856" stroke-width="0.85"/>
<line x1="678.02" y1="112.4" x2="678.02" y2="130.0" stroke="#ff8a8a" stroke-width="1"/>
<rect x="676.67" y="128.5" width="2.7" height="1.5" fill="#ff1010"/>
<line x1="681.94" y1="121.7" x2="681.94" y2="158.7" stroke="#ff8a8a" stroke-width="1"/>
<rect x="680.59" y="131.5" width="2.7" height="26.3" fill="#ff1010"/>
<line x1="685.85" y1="143.0" x2="685.85" y2="163.3" stroke="#86c686" stroke-width="1"/>
<rect x="684.58" y="144.3" width="2.55" height="16.7" fill="#fff" stroke="#56a856" stroke-width="0.85"/>
<line x1="689.77" y1="124.4" x2="689.77" y2="153.1" stroke="#86c686" stroke-width="1"/>
<rect x="688.50" y="125.8" width="2.55" height="15.7" fill="#fff" stroke="#56a856" stroke-width="0.85"/>
<line x1="693.69" y1="124.4" x2="693.69" y2="144.8" stroke="#ff8a8a" stroke-width="1"/>
<rect x="692.34" y="124.4" width="2.7" height="19.5" fill="#ff1010"/>
<line x1="697.61" y1="125.6" x2="697.61" y2="145.9" stroke="#86c686" stroke-width="1"/>
<rect x="696.33" y="126.9" width="2.55" height="16.7" fill="#fff" stroke="#56a856" stroke-width="0.85"/>
<line x1="701.53" y1="114.4" x2="701.53" y2="132.0" stroke="#ff8a8a" stroke-width="1"/>
<rect x="700.18" y="127.0" width="2.7" height="0.8" fill="#ff1010"/>
<line x1="705.44" y1="121.9" x2="705.44" y2="143.1" stroke="#ff8a8a" stroke-width="1"/>
<rect x="704.09" y="127.4" width="2.7" height="2.8" fill="#ff1010"/>
<line x1="709.36" y1="127.4" x2="709.36" y2="143.1" stroke="#ff8a8a" stroke-width="1"/>
<rect x="708.01" y="132.0" width="2.7" height="3.7" fill="#ff1010"/>
<line x1="713.28" y1="133.0" x2="713.28" y2="136.7" stroke="#86c686" stroke-width="1"/>
<rect x="712.00" y="134.7" width="2.55" height="1.1" fill="#b3dcb3" stroke="#56a856" stroke-width="0.85"/>
<line x1="717.20" y1="111.7" x2="717.20" y2="134.8" stroke="#86c686" stroke-width="1"/>
<rect x="715.92" y="113.0" width="2.55" height="21.4" fill="#b3dcb3" stroke="#56a856" stroke-width="0.85"/>
<line x1="721.12" y1="97.8" x2="721.12" y2="114.4" stroke="#86c686" stroke-width="1"/>
<rect x="719.84" y="99.1" width="2.55" height="13.0" fill="#b3dcb3" stroke="#56a856" stroke-width="0.85"/>
<line x1="725.03" y1="99.6" x2="725.03" y2="116.3" stroke="#ff8a8a" stroke-width="1"/>
<rect x="723.68" y="100.6" width="2.7" height="11.1" fill="#ff1010"/>
<line x1="728.95" y1="110.7" x2="728.95" y2="129.3" stroke="#ff8a8a" stroke-width="1"/>
<rect x="727.60" y="111.7" width="2.7" height="13.9" fill="#ff1010"/>
<line x1="732.87" y1="122.8" x2="732.87" y2="146.3" stroke="#ff8a8a" stroke-width="1"/>
<rect x="731.52" y="125.6" width="2.7" height="13.8" fill="#ff1010"/>
<line x1="736.79" y1="115.4" x2="736.79" y2="141.3" stroke="#86c686" stroke-width="1"/>
<rect x="735.51" y="116.7" width="2.55" height="23.3" fill="#fff" stroke="#56a856" stroke-width="0.85"/>
<line x1="740.71" y1="98.7" x2="740.71" y2="118.1" stroke="#86c686" stroke-width="1"/>
<rect x="739.43" y="102.8" width="2.55" height="13.9" fill="#fff" stroke="#56a856" stroke-width="0.85"/>
<line x1="744.62" y1="100.6" x2="744.62" y2="110.7" stroke="#ff8a8a" stroke-width="1"/>
<rect x="743.27" y="103.9" width="2.7" height="1.7" fill="#ff1010"/>
<line x1="748.54" y1="87.6" x2="748.54" y2="106.1" stroke="#86c686" stroke-width="1"/>
<rect x="747.27" y="88.9" width="2.55" height="15.9" fill="#b3dcb3" stroke="#56a856" stroke-width="0.85"/>
<line x1="752.46" y1="86.3" x2="752.46" y2="95.6" stroke="#86c686" stroke-width="1"/>
<rect x="751.18" y="88.0" width="2.55" height="1.1" fill="#b3dcb3" stroke="#56a856" stroke-width="0.85"/>
<line x1="756.38" y1="88.1" x2="756.38" y2="107.2" stroke="#ff8a8a" stroke-width="1"/>
<rect x="755.03" y="88.7" width="2.7" height="17.4" fill="#ff1010"/>
<line x1="760.30" y1="99.3" x2="760.30" y2="113.1" stroke="#ff8a8a" stroke-width="1"/>
<rect x="758.95" y="106.7" width="2.7" height="0.9" fill="#ff1010"/>
<line x1="764.21" y1="101.7" x2="764.21" y2="112.2" stroke="#86c686" stroke-width="1"/>
<rect x="762.94" y="103.4" width="2.55" height="2.9" fill="#fff" stroke="#56a856" stroke-width="0.85"/>
<line x1="768.13" y1="92.8" x2="768.13" y2="108.5" stroke="#86c686" stroke-width="1"/>
<rect x="766.86" y="101.0" width="2.55" height="2.1" fill="#fff" stroke="#56a856" stroke-width="0.85"/>
<line x1="772.05" y1="95.6" x2="772.05" y2="119.6" stroke="#86c686" stroke-width="1"/>
<rect x="770.77" y="97.7" width="2.55" height="2.1" fill="#fff" stroke="#56a856" stroke-width="0.85"/>
<line x1="775.97" y1="90.7" x2="775.97" y2="106.3" stroke="#86c686" stroke-width="1"/>
<rect x="774.69" y="92.6" width="2.55" height="5.4" fill="#b3dcb3" stroke="#56a856" stroke-width="0.85"/>
<line x1="779.89" y1="83.6" x2="779.89" y2="99.3" stroke="#86c686" stroke-width="1"/>
<rect x="778.61" y="92.0" width="2.55" height="1.1" fill="#b3dcb3" stroke="#56a856" stroke-width="0.85"/>
<line x1="783.80" y1="74.3" x2="783.80" y2="91.9" stroke="#86c686" stroke-width="1"/>
<rect x="782.53" y="75.8" width="2.55" height="14.7" fill="#b3dcb3" stroke="#56a856" stroke-width="0.85"/>
<line x1="787.72" y1="76.6" x2="787.72" y2="99.6" stroke="#ff8a8a" stroke-width="1"/>
<rect x="786.37" y="77.0" width="2.7" height="19.5" fill="#ff1010"/>
<line x1="791.64" y1="80.7" x2="791.64" y2="97.4" stroke="#86c686" stroke-width="1"/>
<rect x="790.36" y="89.5" width="2.55" height="5.7" fill="#fff" stroke="#56a856" stroke-width="0.85"/>
<line x1="795.56" y1="80.7" x2="795.56" y2="94.6" stroke="#ff8a8a" stroke-width="1"/>
<rect x="794.28" y="90.3" width="2.55" height="2.1" fill="#fff" stroke="#ff1010" stroke-width="0.85"/>
<line x1="799.48" y1="87.2" x2="799.48" y2="111.5" stroke="#ff8a8a" stroke-width="1"/>
<rect x="798.13" y="88.9" width="2.7" height="17.8" fill="#ff1010"/>
<line x1="803.39" y1="103.9" x2="803.39" y2="140.9" stroke="#ff8a8a" stroke-width="1"/>
<rect x="802.04" y="108.9" width="2.7" height="7.8" fill="#ff1010"/>
<line x1="807.31" y1="94.4" x2="807.31" y2="117.8" stroke="#86c686" stroke-width="1"/>
<rect x="806.04" y="103.7" width="2.55" height="13.1" fill="#b3dcb3" stroke="#56a856" stroke-width="0.85"/>
<line x1="811.23" y1="93.8" x2="811.23" y2="106.0" stroke="#86c686" stroke-width="1"/>
<rect x="809.95" y="94.2" width="2.55" height="10.1" fill="#b3dcb3" stroke="#56a856" stroke-width="0.85"/>
<line x1="815.15" y1="81.1" x2="815.15" y2="95.9" stroke="#ff8a8a" stroke-width="1"/>
<rect x="813.80" y="94.4" width="2.7" height="1.2" fill="#ff1010"/>
<line x1="819.07" y1="81.1" x2="819.07" y2="100.6" stroke="#86c686" stroke-width="1"/>
<rect x="817.79" y="86.5" width="2.55" height="12.5" fill="#fff" stroke="#56a856" stroke-width="0.85"/>
<line x1="822.98" y1="82.8" x2="822.98" y2="90.0" stroke="#86c686" stroke-width="1"/>
<rect x="821.71" y="85.4" width="2.55" height="3.6" fill="#fff" stroke="#56a856" stroke-width="0.85"/>
<line x1="826.90" y1="79.4" x2="826.90" y2="91.7" stroke="#86c686" stroke-width="1"/>
<rect x="825.63" y="83.4" width="2.55" height="2.1" fill="#fff" stroke="#56a856" stroke-width="0.85"/>
<line x1="830.82" y1="81.1" x2="830.82" y2="94.8" stroke="#86c686" stroke-width="1"/>
<rect x="829.54" y="81.1" width="2.55" height="1.1" fill="#b3dcb3" stroke="#56a856" stroke-width="0.85"/>
<line x1="834.74" y1="75.2" x2="834.74" y2="83.7" stroke="#86c686" stroke-width="1"/>
<rect x="833.46" y="76.2" width="2.55" height="6.6" fill="#b3dcb3" stroke="#56a856" stroke-width="0.85"/>
<rect x="590.7" y="75.0" width="251.9" height="6.5" fill="rgba(200,206,213,0.6)" stroke="rgba(168,176,186,0.5)" stroke-width="0.8"/>
<rect x="452.0" y="155.7" width="390.6" height="7.2" fill="rgba(200,206,213,0.6)" stroke="rgba(168,176,186,0.5)" stroke-width="0.8"/>
<rect x="257.3" y="227.9" width="585.3" height="9.0" fill="rgba(200,206,213,0.6)" stroke="rgba(168,176,186,0.5)" stroke-width="0.8"/>
<polyline points="842.33,93.92 842.38,94.93 842.38,95.75 842.33,96.76 842.21,97.85 842.05,99.00 841.82,100.19 841.54,101.41 841.20,102.66 840.81,103.92 840.36,105.21 839.86,106.50 839.30,107.81 838.69,109.12 838.02,110.45 837.30,111.78 836.52,113.11 835.70,114.45 834.82,115.79 833.88,117.13 832.90,118.46 831.87,119.80 830.78,121.13 829.64,122.46 828.46,123.79 827.22,125.10 825.94,126.41 824.61,127.72 823.24,129.01 821.82,130.29 820.35,131.57 818.84,132.83 817.29,134.08 815.69,135.31 814.06,136.54 812.38,137.74 810.66,138.94 808.90,140.11 807.11,141.27 805.28,142.41 803.42,143.54 801.52,144.64 799.58,145.73 797.62,146.79 795.62,147.84 793.60,148.86 791.54,149.86 789.46,150.84 787.35,151.80 785.22,152.73 783.06,153.64 780.89,154.52 778.69,155.38 776.47,156.21 774.23,157.02 771.98,157.80 769.72,158.55 767.44,159.28 765.15,159.97 762.85,160.64 760.54,161.28 758.22,161.89 755.91,162.48 753.58,163.03 751.26,163.55 748.94,164.04 746.62,164.51 744.31,164.94 742.01,165.34 739.72,165.71 737.45,166.04 735.19,166.35 732.95,166.62 730.75,166.87 728.57,167.08 726.43,167.25 724.34,167.40 722.31,167.51 720.35,167.60 718.52,167.64 716.96,167.66 715.40,167.64 713.57,167.60 711.61,167.51 709.58,167.40 707.49,167.25 705.35,167.08 703.17,166.87 700.97,166.62 698.73,166.35 696.47,166.04 694.20,165.71 691.91,165.34 689.61,164.94 687.30,164.51 684.98,164.04 682.66,163.55 680.34,163.03 678.01,162.48 675.70,161.89 673.38,161.28 671.07,160.64 668.77,159.97 666.48,159.28 664.20,158.55 661.94,157.80 659.69,157.02 657.45,156.21 655.23,155.38 653.03,154.52 650.86,153.64 648.70,152.73 646.57,151.80 644.46,150.84 642.38,149.86 640.32,148.86 638.30,147.84 636.30,146.79 634.34,145.73 632.40,144.64 630.50,143.54 628.64,142.41 626.81,141.27 625.02,140.11 623.26,138.94 621.54,137.74 619.86,136.54 618.23,135.31 616.63,134.08 615.08,132.83 613.57,131.57 612.10,130.29 610.68,129.01 609.31,127.72 607.98,126.41 606.70,125.10 605.46,123.79 604.28,122.46 603.14,121.13 602.05,119.80 601.02,118.46 600.04,117.13 599.10,115.79 598.22,114.45 597.40,113.11 596.62,111.78 595.90,110.45 595.23,109.12 594.62,107.81 594.06,106.50 593.56,105.21 593.11,103.92 592.72,102.66 592.38,101.41 592.10,100.19 591.87,99.00 591.71,97.85 591.59,96.76 591.54,95.75 591.54,94.93 591.59,93.92" fill="none" stroke="#238823" stroke-width="1.8" stroke-linecap="round" stroke-linejoin="round"/>
<text x="846.0" y="81.50" font-size="9.4" fill="#222" stroke="#222" stroke-width="0.18" textLength="26.4" lengthAdjust="spacingAndGlyphs">73.775</text>
<text x="882.0" y="81.50" font-size="9.4" fill="#222" stroke="#222" stroke-width="0.18" textLength="29.3" lengthAdjust="spacingAndGlyphs">423.6%</text>
<text x="846.0" y="161.88" font-size="9.4" fill="#222" stroke="#222" stroke-width="0.18" textLength="26.4" lengthAdjust="spacingAndGlyphs">49.263</text>
<text x="882.0" y="161.88" font-size="9.4" fill="#222" stroke="#222" stroke-width="0.18" textLength="29.3" lengthAdjust="spacingAndGlyphs">261.8%</text>
<text x="846.0" y="235.03" font-size="9.4" fill="#222" stroke="#222" stroke-width="0.18" textLength="26.4" lengthAdjust="spacingAndGlyphs">34.113</text>
<text x="882.0" y="235.03" font-size="9.4" fill="#222" stroke="#222" stroke-width="0.18" textLength="29.3" lengthAdjust="spacingAndGlyphs">161.8%</text>
<text x="846.0" y="298.89" font-size="9.4" fill="#222" stroke="#222" stroke-width="0.18" textLength="26.3" lengthAdjust="spacingAndGlyphs">24.750</text>
<text x="881.9" y="298.89" font-size="9.4" fill="#222" stroke="#222" stroke-width="0.18" textLength="17.2" lengthAdjust="spacingAndGlyphs">Start</text>
<text x="846.0" y="487.39" font-size="9.4" fill="#222" stroke="#222" stroke-width="0.18" textLength="21.6" lengthAdjust="spacingAndGlyphs">9.600</text>
<text x="877.2" y="487.39" font-size="9.4" fill="#222" stroke="#222" stroke-width="0.18" textLength="13.7" lengthAdjust="spacingAndGlyphs">End</text>
<polygon points="778.60,426.20 779.45,428.24 781.64,428.41 779.97,429.84 780.48,431.99 778.60,430.84 776.72,431.99 777.23,429.84 775.56,428.41 777.75,428.24" fill="#e0243a"/>
<polygon points="787.00,419.00 787.87,421.10 790.14,421.28 788.41,422.76 788.94,424.97 787.00,423.79 785.06,424.97 785.59,422.76 783.86,421.28 786.13,421.10" fill="#e0243a"/>
<polygon points="798.00,416.00 798.87,418.10 801.14,418.28 799.41,419.76 799.94,421.97 798.00,420.79 796.06,421.97 796.59,419.76 794.86,418.28 797.13,418.10" fill="#e0243a"/>
<polygon points="808.80,417.50 809.67,419.60 811.94,419.78 810.21,421.26 810.74,423.47 808.80,422.29 806.86,423.47 807.39,421.26 805.66,419.78 807.93,419.60" fill="#e0243a"/>
<polygon points="818.50,423.20 819.37,425.30 821.64,425.48 819.91,426.96 820.44,429.17 818.50,427.99 816.56,429.17 817.09,426.96 815.36,425.48 817.63,425.30" fill="#e0243a"/>
<polygon points="825.20,431.80 826.05,433.84 828.24,434.01 826.57,435.44 827.08,437.59 825.20,436.44 823.32,437.59 823.83,435.44 822.16,434.01 824.35,433.84" fill="#e0243a"/>
<polygon points="828.20,442.60 829.05,444.64 831.24,444.81 829.57,446.24 830.08,448.39 828.20,447.24 826.32,448.39 826.83,446.24 825.16,444.81 827.35,444.64" fill="#e0243a"/>
<polygon points="827.70,452.50 828.49,454.41 830.55,454.57 828.98,455.92 829.46,457.93 827.70,456.85 825.94,457.93 826.42,455.92 824.85,454.57 826.91,454.41" fill="#e0243a"/>
<circle cx="825.2" cy="462.1" r="1.25" fill="#e0243a"/>
<circle cx="821.6" cy="466.4" r="1.2" fill="#e0243a"/>
<circle cx="817.6" cy="470.2" r="1.15" fill="#e0243a"/>
<circle cx="812.8" cy="473.1" r="1.1" fill="#e0243a"/>
<circle cx="807.5" cy="475.3" r="1.05" fill="#e0243a"/>
<circle cx="802.1" cy="476.5" r="1.0" fill="#e0243a"/>
<circle cx="796.4" cy="476.2" r="0.95" fill="#e0243a"/>
<circle cx="790.8" cy="474.7" r="0.9" fill="#e0243a"/>
<circle cx="786.1" cy="472.7" r="0.8" fill="#e0243a"/>
<circle cx="782" cy="470.2" r="0.7" fill="#e0243a"/>
<circle cx="778.2" cy="467.2" r="0.6" fill="#e0243a"/>
<text x="717.4" y="447.8" font-size="15.2" font-weight="bold" fill="#1a3156" textLength="92.6" lengthAdjust="spacing">ALL STAR</text>
<text x="724.3" y="463" font-size="15.2" font-weight="bold" fill="#1a3156" textLength="79.6" lengthAdjust="spacing">CHARTS</text>
<line x1="941.7" y1="14.2" x2="941.7" y2="499.5" stroke="#c6c6c6" stroke-width="1"/>
<g clip-path="url(#axclip)">
<line x1="941.7" y1="15.0" x2="945.5" y2="15.0" stroke="#8a8a8a" stroke-width="1"/>
<line x1="941.7" y1="33.1" x2="945.5" y2="33.1" stroke="#8a8a8a" stroke-width="1"/>
<text x="946.6" y="38.8" font-size="16" fill="#2b2b2b">93</text>
<line x1="941.7" y1="51.0" x2="945.5" y2="51.0" stroke="#8a8a8a" stroke-width="1"/>
<text x="946.6" y="56.7" font-size="16" fill="#2b2b2b">85</text>
<line x1="941.7" y1="70.7" x2="945.5" y2="70.7" stroke="#8a8a8a" stroke-width="1"/>
<line x1="941.7" y1="89.7" x2="945.5" y2="89.7" stroke="#8a8a8a" stroke-width="1"/>
<text x="946.6" y="95.4" font-size="16" fill="#2b2b2b">70</text>
<line x1="941.7" y1="107.5" x2="945.5" y2="107.5" stroke="#8a8a8a" stroke-width="1"/>
<text x="946.6" y="113.2" font-size="16" fill="#2b2b2b">64</text>
<line x1="941.7" y1="127.1" x2="945.5" y2="127.1" stroke="#8a8a8a" stroke-width="1"/>
<text x="946.6" y="132.8" font-size="16" fill="#2b2b2b">58</text>
<line x1="941.7" y1="145.0" x2="945.5" y2="145.0" stroke="#8a8a8a" stroke-width="1"/>
<text x="946.6" y="150.7" font-size="16" fill="#2b2b2b">53</text>
<line x1="941.7" y1="164.8" x2="945.5" y2="164.8" stroke="#8a8a8a" stroke-width="1"/>
<text x="946.6" y="170.5" font-size="16" fill="#2b2b2b">48</text>
<line x1="941.7" y1="186.6" x2="945.5" y2="186.6" stroke="#8a8a8a" stroke-width="1"/>
<text x="946.6" y="192.3" font-size="16" fill="#2b2b2b">43</text>
<line x1="941.7" y1="206.1" x2="945.5" y2="206.1" stroke="#8a8a8a" stroke-width="1"/>
<text x="946.6" y="211.8" font-size="16" fill="#2b2b2b">39</text>
<line x1="941.7" y1="227.6" x2="945.5" y2="227.6" stroke="#8a8a8a" stroke-width="1"/>
<text x="946.6" y="233.3" font-size="16" fill="#2b2b2b">35</text>
<line x1="941.7" y1="245.5" x2="945.5" y2="245.5" stroke="#8a8a8a" stroke-width="1"/>
<text x="946.6" y="251.2" font-size="16" fill="#2b2b2b">32</text>
<line x1="941.7" y1="265.0" x2="945.5" y2="265.0" stroke="#8a8a8a" stroke-width="1"/>
<text x="946.6" y="270.7" font-size="16" fill="#2b2b2b">29</text>
<line x1="941.7" y1="286.8" x2="945.5" y2="286.8" stroke="#8a8a8a" stroke-width="1"/>
<text x="946.6" y="292.5" font-size="16" fill="#2b2b2b">26</text>
<line x1="941.7" y1="311.2" x2="945.5" y2="311.2" stroke="#8a8a8a" stroke-width="1"/>
<text x="946.6" y="316.9" font-size="16" fill="#2b2b2b">23</text>
<line x1="941.7" y1="329.3" x2="945.5" y2="329.3" stroke="#8a8a8a" stroke-width="1"/>
<text x="946.6" y="335.0" font-size="16" fill="#2b2b2b">21</text>
<line x1="941.7" y1="349.2" x2="945.5" y2="349.2" stroke="#8a8a8a" stroke-width="1"/>
<text x="946.6" y="354.9" font-size="16" fill="#2b2b2b">19</text>
<line x1="941.7" y1="371.4" x2="945.5" y2="371.4" stroke="#8a8a8a" stroke-width="1"/>
<text x="946.6" y="377.1" font-size="16" fill="#2b2b2b">17</text>
<line x1="941.7" y1="396.3" x2="945.5" y2="396.3" stroke="#8a8a8a" stroke-width="1"/>
<text x="946.6" y="402.0" font-size="16" fill="#2b2b2b">15</text>
<line x1="941.7" y1="424.7" x2="945.5" y2="424.7" stroke="#8a8a8a" stroke-width="1"/>
<text x="946.6" y="430.4" font-size="16" fill="#2b2b2b">13</text>
<line x1="941.7" y1="458.0" x2="945.5" y2="458.0" stroke="#8a8a8a" stroke-width="1"/>
<text x="946.6" y="463.7" font-size="16" fill="#2b2b2b">11</text>
<line x1="941.7" y1="477.0" x2="945.5" y2="477.0" stroke="#8a8a8a" stroke-width="1"/>
<text x="946.6" y="482.7" font-size="16" fill="#2b2b2b">10</text>
<line x1="941.7" y1="497.9" x2="945.5" y2="497.9" stroke="#8a8a8a" stroke-width="1"/>
<text x="946.6" y="503.6" font-size="16" fill="#2b2b2b">9</text>
<line x1="951.4" y1="9" x2="951.4" y2="20.7" stroke="#333" stroke-width="1.3"/>
<ellipse cx="959.7" cy="15" rx="3.0" ry="5.1" fill="none" stroke="#333" stroke-width="1.3"/>
</g>
<line x1="941.7" y1="76.3" x2="946" y2="76.3" stroke="#1f9a1f" stroke-width="1"/>
<rect x="945" y="65" width="20" height="22" fill="#078207"/>
<text x="947.3" y="82.2" font-size="17" fill="#fff">74</text>
<rect x="952.9" y="1.9" width="10" height="11.9" rx="1.6" fill="#0b4a8b"/>
<path d="M959.6 6.9 A2.9 2.9 0 0 0 959.6 12.7" stroke="#fff" stroke-width="1.4" fill="none"/>
<rect x="958.3" y="5.0" width="2" height="0.9" fill="#fff"/>
<rect x="-1" y="499.5" width="962" height="22.6" fill="#fff" stroke="#dcdcdc" stroke-width="1"/>
<line x1="84.5" y1="499.5" x2="84.5" y2="522.1" stroke="#e0e0e0" stroke-width="1"/>
<text x="86.1" y="516" font-size="16.6" fill="#333" letter-spacing="0.35">2010</text>
<line x1="319.6" y1="499.5" x2="319.6" y2="522.1" stroke="#e0e0e0" stroke-width="1"/>
<text x="321.2" y="516" font-size="16.6" fill="#333" letter-spacing="0.35">2015</text>
<line x1="554.7" y1="499.5" x2="554.7" y2="522.1" stroke="#e0e0e0" stroke-width="1"/>
<text x="556.3" y="516" font-size="16.6" fill="#333" letter-spacing="0.35">2020</text>
<line x1="789.7" y1="499.5" x2="789.7" y2="522.1" stroke="#e0e0e0" stroke-width="1"/>
<text x="791.3" y="516" font-size="16.6" fill="#333" letter-spacing="0.35">2025</text>
<text x="462.2" y="531.8" font-size="8" fill="#444" textLength="37.2" lengthAdjust="spacingAndGlyphs">3rd Dec 2025</text>
</svg>
</body></html>
